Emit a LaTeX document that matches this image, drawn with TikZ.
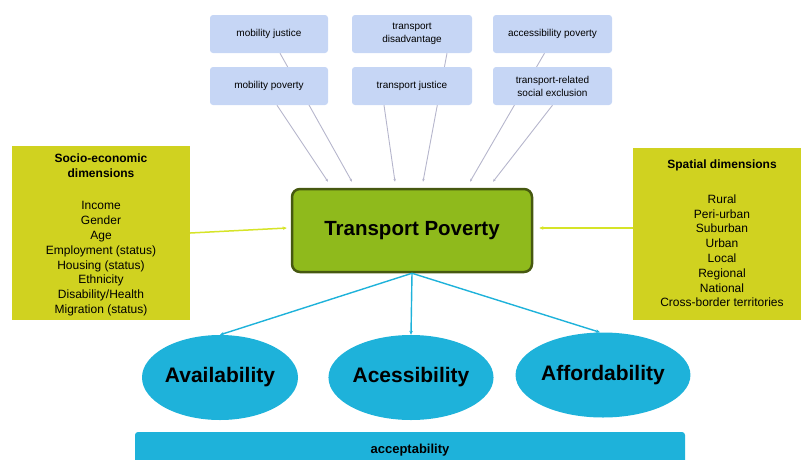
\documentclass[tikz,border=0pt]{standalone}
\usepackage{fontspec}
\setmainfont{Liberation Sans}
\usepackage{xcolor}
\usetikzlibrary{positioning, arrows.meta, shapes.geometric, backgrounds}

\definecolor{termblue}{RGB}{198,214,245}
\definecolor{dimyellow}{RGB}{208,210,32}
\definecolor{corefill}{RGB}{143,186,28}
\definecolor{coreline}{RGB}{70,88,16}
\definecolor{pillarblue}{RGB}{30,178,218}
\definecolor{faintgray}{RGB}{182,182,204}
\definecolor{sideyellow}{RGB}{214,228,40}

\begin{document}
\begin{tikzpicture}[
    x=1pt, y=-1pt,
    every node/.style={font=\fontsize{10}{13}\selectfont},
    term/.style={rectangle, rounded corners=3pt, fill=termblue, align=center, minimum width=#1, minimum height=38pt, inner sep=2pt},
    term/.default=118pt,
    dim/.style={rectangle, fill=dimyellow, minimum width=178pt, inner sep=0pt},
    dimtitle/.style={font=\fontsize{12}{15}\selectfont\bfseries, align=center, inner sep=0pt},
    dimlist/.style={font=\fontsize{12}{14.8}\selectfont, align=center, inner sep=0pt},
    core/.style={rectangle, draw=coreline, line width=2.5pt, rounded corners=8pt, fill=corefill, minimum width=240pt, minimum height=83pt, font=\fontsize{20.5}{24}\selectfont\bfseries},
    pillar/.style={ellipse, fill=pillarblue, minimum width=156pt, minimum height=85pt, inner sep=0pt, font=\fontsize{21}{25}\selectfont\bfseries},
    faintarr/.style={-{Stealth[length=3pt, width=2.5pt]}, faintgray, line width=0.9pt},
    downarr/.style={-{Stealth[length=4pt, width=3.5pt]}, pillarblue, line width=1.4pt},
    sidearr/.style={-{Stealth[length=4pt, width=3.5pt]}, sideyellow, line width=1.5pt},
]
    \useasboundingbox (0,0) rectangle (801,459);

    % --- Column x-coordinates of the term boxes ---
    \def\cA{269}
    \def\cB{412}
    \def\cC{552.5}
    % --- Row y-coordinates ---
    \def\rA{34}
    \def\rB{86}

    % --- Related terms (two rows) ---
    \node[term] (mj)   at (\cA, \rA) {mobility justice};
    \node[term=120pt] (td)   at (\cB, \rA) {transport\\disadvantage};
    \node[term=119pt] (ap)   at (\cC, \rA) {accessibility poverty};
    \node[term] (mp)   at (\cA, \rB) {mobility poverty};
    \node[term=120pt] (tj)   at (\cB, \rB) {transport justice};
    \node[term=119pt] (trse) at (\cC, \rB) {transport-related\\social exclusion};

    % --- Central concept ---
    \node[core] (tp) at (412, 230.5) {Transport Poverty};

    % --- Socio-economic dimensions (left) ---
    \node[dim, minimum height=174pt] (sed) at (101, 233) {};
    \node[dimtitle] at ([yshift=-20pt]sed.north) {Socio-economic\\dimensions};
    \node[dimlist] at ([yshift=-113pt]sed.north)
        {Income\\Gender\\Age\\Employment (status)\\Housing (status)\\Ethnicity\\Disability/Health\\Migration (status)};

    % --- Spatial dimensions (right) ---
    \node[dim, minimum height=172pt] (spd) at (722, 234) {};
    \node[dimtitle] at ([yshift=-18pt]spd.north) {Spatial dimensions};
    \node[dimlist] at ([yshift=-103pt]spd.north)
        {Rural\\Peri-urban\\Suburban\\Urban\\Local\\Regional\\National\\Cross-border territories};

    % --- Three A's ---
    \node[pillar] (avl) at (220, 377.5) {Availability};
    \node[pillar] (acs) at (411, 377.5) {Acessibility};
    \node[pillar] (aff) at (603, 375)   {Affordability};

    % --- Acceptability bar (runs off the bottom edge) ---
    \node[rectangle, rounded corners=3pt, fill=pillarblue, minimum width=550pt, minimum height=36pt,
          font=\fontsize{13}{15}\selectfont\bfseries] (acc) at (410, 450) {acceptability};

    % --- Term arrows, behind the boxes ---
    \begin{scope}[on background layer]
        \draw[faintarr] ([xshift=8pt]mp.south)   -- ([xshift=-84pt, yshift=6pt]tp.north);
        \draw[faintarr] ([xshift=11pt]mj.south)  -- ([xshift=-60pt, yshift=6pt]tp.north);
        \draw[faintarr] ([xshift=-28pt]tj.south) -- ([xshift=-17pt, yshift=6pt]tp.north);
        \draw[faintarr] ([xshift=35pt]td.south)  -- ([xshift=11pt, yshift=6pt]tp.north);
        \draw[faintarr] ([xshift=-8pt]ap.south)  -- ([xshift=58pt, yshift=6pt]tp.north);
        \draw[faintarr] (trse.south)             -- ([xshift=81pt, yshift=6pt]tp.north);
    \end{scope}

    % --- Dimensions feed the centre ---
    \draw[sidearr] (sed.east) -- ([xshift=-4pt, yshift=2.5pt]tp.west);
    \draw[sidearr] ([yshift=6pt]spd.west) -- ([xshift=6pt, yshift=2.5pt]tp.east);

    % --- Centre to the three A's ---
    \draw[downarr] (tp.south) -- (avl.north);
    \draw[downarr] (tp.south) -- (acs.north);
    \draw[downarr] (tp.south) -- ([xshift=-3pt]aff.north);
\end{tikzpicture}
\end{document}
